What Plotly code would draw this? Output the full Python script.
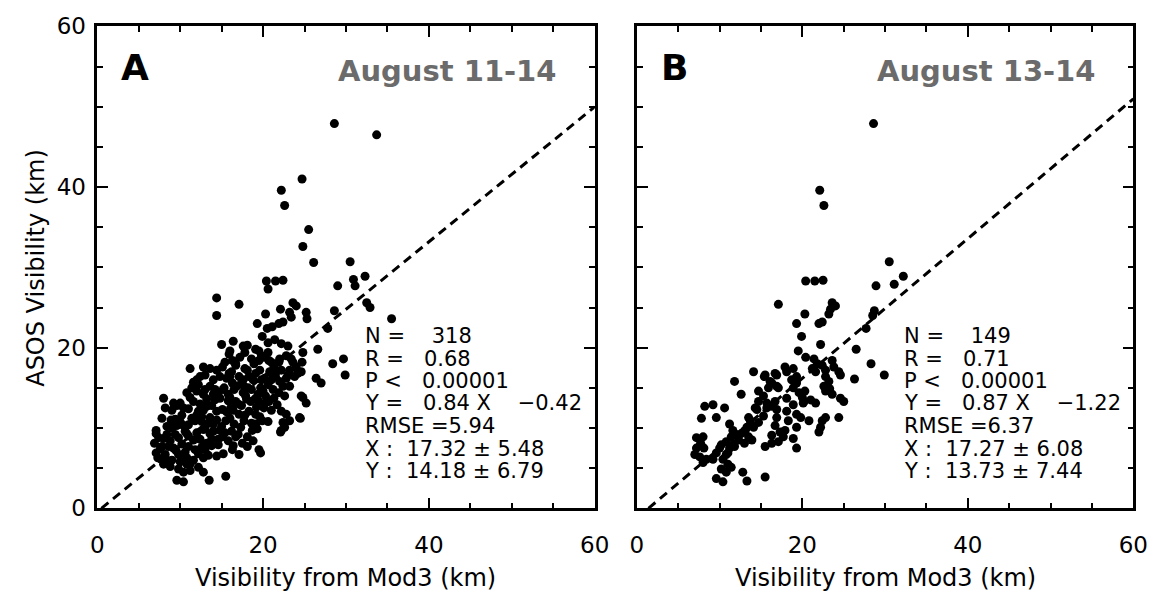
import plotly.graph_objects as go

# ---------------- data ----------------
a_points = [
    (28.6,47.9),(33.7,46.5),(24.7,41.0),(22.2,39.6),(22.6,37.7),(25.5,34.7),(24.8,32.6),
    (26.1,30.6),(30.5,30.7),(29.0,27.7),(30.9,28.5),(31.1,27.7),(32.3,28.9),
    (20.4,28.3),(20.6,27.3),(21.5,28.3),(22.4,28.4),
    (14.4,26.2),(14.4,24.0),(17.1,25.4),(32.5,25.6),(32.9,25.0),(35.5,23.6),
    (20.3,24.2),(22.1,24.8),(23.6,25.6),(24.0,25.2),(23.2,24.4),(23.4,23.8),(22.4,23.2),
    (21.9,23.0),(21.1,22.6),(20.5,22.4),(19.3,23.0),(19.9,21.4),(25.2,24.4),(25.3,23.6),
    (28.6,24.6),(27.8,22.4),
    (15.0,20.4),(18.1,20.3),(19.5,19.6),(22.2,20.5),(15.9,19.2),(16.3,18.4),(16.7,18.0),
    (26.6,19.8),(28.4,18.0),(29.7,18.6),(29.9,16.6),(26.4,16.2),(27.0,15.6),(24.8,19.4),
    (11.2,17.4),(11.6,15.7),(12.8,17.6),(12.4,16.4),(12.0,14.6),(13.0,14.8),
    (7.1,9.7),(7.1,9.3),(6.9,8.1),(7.1,6.9),(7.3,6.3),(8.0,5.5),(7.7,6.1),(8.2,6.7),(8.0,8.7),(7.8,7.7),
    (8.0,13.7),(8.2,12.5),(9.2,13.1),(7.8,11.2),(10.0,13.1),(10.4,12.5),(9.4,11.1),(9.6,10.3),
    (8.6,7.7),(9.2,7.5),(9.8,6.7),(10.4,6.1),(10.8,5.5),(9.8,4.9),(10.4,4.5),(9.6,3.5),(10.4,3.3),
    (11.6,13.3),(12.2,12.1),(11.8,10.9),(10.4,10.3),(10.8,9.3),(11.6,8.5),(11.0,7.7),(11.8,7.3),
    (10.8,6.3),(11.2,5.5),(11.2,4.7),(12.2,5.1),(12.8,4.5),(13.5,3.5),(15.5,4.0),
    (13.2,12.7),(13.6,11.3),(14.2,13.5),(14.4,12.1),(14.0,10.5),(13.6,9.3),(13.2,8.1),(13.0,7.3),
    (12.8,6.3),(14.4,6.5),(14.6,7.9),(15.1,8.9),(14.8,9.7),(15.5,10.9),(15.1,12.3),(14.8,13.7),
    (14.2,14.8),(15.3,15.0),(14.8,16.4),(14.4,17.2),(15.1,17.6),
    (15.9,16.8),(16.7,17.8),(17.1,16.4),(16.3,15.6),(16.5,14.8),
    (16.7,13.3),(16.1,12.5),(17.1,11.7),(16.5,10.5),(17.3,10.1),(17.7,10.9),(16.7,8.9),(17.5,8.1),
    (16.3,7.3),(17.1,6.7),(18.1,7.7),(18.1,8.9),(18.7,9.7),(19.1,10.5),(18.3,12.1),(18.5,13.3),
    (17.9,14.0),(17.7,15.2),(18.3,16.4),(18.1,17.2),(19.1,16.8),(18.9,18.0),(19.5,18.4),(20.1,18.8),
    (19.1,19.8),
    (19.7,15.0),(20.3,14.0),(19.5,13.3),(20.1,12.5),(19.1,11.7),(19.9,10.9),(19.3,9.9),(19.5,7.3),(19.7,6.9),
    (20.7,18.4),(21.3,17.6),(21.9,18.2),(22.2,17.2),(21.5,16.4),(22.8,16.2),(22.4,15.2),(21.9,14.4),
    (21.3,13.7),(20.7,13.3),(21.7,12.9),(22.6,14.0),(23.2,15.2),(23.8,16.4),(24.2,16.8),(23.2,17.2),
    (23.6,18.2),(24.6,17.0),(24.7,18.2),
    (22.2,12.1),(22.8,11.7),(22.4,10.7),(22.2,9.7),(23.2,10.9),(24.5,11.2),(24.8,13.8),(25.2,13.1),
    (9.0,6.0),(10.0,5.8),(11.6,6.0),(12.2,6.8),(13.4,6.6),(9.5,7.2),(10.6,7.0),
    (8.8,8.4),(9.8,8.8),(10.2,8.0),(12.4,8.6),(12.0,9.4),(13.8,8.6),(15.8,8.4),(16.2,9.6),(17.0,9.2),(18.8,8.4),
    (8.4,10.2),(8.9,11.0),(10.0,10.8),(11.0,10.4),(12.6,10.8),(13.0,10.0),(14.4,11.0),(15.0,10.2),
    (16.0,11.2),(17.8,11.6),(18.6,10.6),(19.6,11.4),(20.6,10.8),
    (9.0,12.2),(9.6,12.8),(11.0,12.4),(12.4,13.0),(12.8,12.2),(13.8,12.8),(15.8,13.4),(16.4,12.2),
    (17.4,12.8),(18.0,13.6),(19.2,12.6),(20.4,13.2),(21.0,12.2),
    (10.8,14.4),(11.4,15.0),(12.8,14.2),(13.6,15.2),(14.6,14.4),(15.8,14.2),(16.8,15.2),(17.6,14.4),
    (18.6,14.8),(19.4,14.2),(20.6,15.4),(21.2,14.8),(22.0,15.8),
    (12.0,16.0),(13.0,16.6),(13.6,17.4),(14.0,16.0),(15.6,16.2),(16.2,17.0),(17.6,16.0),(17.8,17.4),
    (19.6,17.2),(20.2,16.2),(20.8,17.0),(23.0,16.6),
    (15.4,18.2),(16.0,19.6),(17.2,18.8),(17.8,19.4),(18.6,18.6),(19.8,19.0),(20.6,19.4),(21.0,18.2),
    (22.0,18.6),(22.8,19.0),(23.4,18.6),(24.0,17.6),
    (16.4,20.8),(17.6,20.2),(20.6,20.6),(21.4,21.0),(23.0,20.2),
    (7.4,8.8),(7.6,7.4),(8.4,6.0),(8.8,5.2),
    (24.6,14.0),(24.4,11.3),(22.6,10.1),(22.1,9.5),
    (9.4,9.2),(10.6,9.6),(11.4,11.2),(12.0,11.6),(12.8,9.8),(13.4,10.6),(14.0,9.6),(14.6,8.6),
    (15.4,9.4),(15.6,12.0),(16.0,13.8),(17.0,13.0),(17.4,15.6),(18.2,15.0),(18.8,16.0),(19.8,16.0),
    (19.0,13.6),(20.0,14.6),(21.0,16.0),(21.6,17.0),(12.2,15.4),(13.2,13.6),(14.0,14.2),(15.2,14.8),
    (16.0,16.4),(10.2,11.6),(11.2,13.8),(12.6,11.4),(8.4,9.2),(9.0,10.0),(15.2,6.8),(13.8,7.8),
    (16.4,7.8),(11.0,9.0),(12.6,7.6),
]

b_points = [
    (28.6,47.9),(22.1,39.6),(22.6,37.7),(30.5,30.7),(28.9,27.7),(31.1,27.9),(32.2,28.9),
    (20.4,28.3),(21.5,28.3),(22.5,28.4),
    (17.1,25.4),(20.3,24.2),(23.6,25.6),(24.0,25.2),(23.4,24.8),(23.2,24.2),(22.4,23.2),(22.0,23.0),
    (19.3,23.0),(19.9,21.4),(28.7,24.6),(28.5,24.0),(27.7,22.4),(19.5,19.6),(22.2,20.4),(26.5,19.8),
    (28.3,18.0),(29.9,16.6),(26.3,16.1),
    (20.4,18.8),(21.4,18.6),(21.8,18.0),(21.2,17.4),(21.6,17.0),(22.4,17.8),(22.8,17.2),(23.6,18.4),
    (23.8,17.6),(24.4,17.0),(24.6,16.6),(23.2,15.8),(22.6,15.2),(22.8,14.6),(23.3,14.9),(23.6,14.2),
    (24.6,13.7),(25.0,13.3),
    (22.4,10.9),(22.8,11.3),(22.2,10.1),(22.0,9.5),(24.4,11.3),(19.8,11.3),
    (17.9,17.6),(18.9,17.4),(19.3,16.4),(18.7,16.0),(19.3,15.6),(18.9,15.0),(19.6,14.4),(20.0,13.8),
    (20.2,13.3),(21.0,13.5),(21.6,13.1),(22.8,16.4),
    (17.1,15.0),(16.3,15.6),(15.4,16.4),(16.9,16.6),(14.1,17.0),(11.8,15.8),(12.6,14.2),
    (8.2,12.7),(9.2,12.9),(7.8,11.2),(9.6,11.3),(10.6,12.5),
    (14.5,12.3),(13.5,11.3),(13.3,10.1),(14.7,10.7),(15.3,11.5),(15.7,12.5),(16.3,12.7),(16.7,13.3),
    (16.9,11.3),(16.7,10.3),(17.3,9.5),(17.9,9.7),(16.3,9.1),(17.1,8.3),(15.5,7.7),(16.3,8.1),
    (17.7,8.9),(18.9,8.7),(19.3,7.5),
    (11.2,10.5),(11.6,9.7),(11.4,8.9),(12.0,9.2),(10.8,8.3),(11.7,8.0),(12.3,8.5),(11.2,7.5),
    (10.8,6.7),(10.4,6.1),(11.0,5.5),(11.4,5.1),(10.2,4.9),(10.8,4.5),(9.6,3.7),(10.4,3.3),
    (12.8,4.5),(13.3,3.4),(15.5,3.9),(13.0,8.1),(13.5,8.9),(13.1,9.7),(13.9,8.5),
    (8.0,8.9),(7.2,8.8),(7.7,8.1),(7.2,7.5),(8.1,7.5),(7.0,6.7),(7.6,6.4),(8.0,5.7),(8.4,6.1),
    (9.6,6.9),(10.0,7.5),(9.2,6.1),
    (15.5,16.6),(16.7,16.8),(18.1,17.0),(16.1,15.8),(16.9,15.2),(15.9,15.0),
    (14.7,14.6),(15.3,14.0),(14.7,13.3),(15.7,13.1),(16.9,12.3),(14.3,12.5),(13.7,10.9),(14.1,10.1),
    (12.6,9.3),(10.2,7.9),(11.8,7.7),(11.0,6.9),
    (18.1,13.7),(18.9,12.9),(18.1,12.1),(19.3,11.7),(18.3,10.9),(19.3,10.1),
    (20.3,14.6),(20.1,13.1),(20.8,10.9),
]

a_x = [p[0] for p in a_points]
a_y = [p[1] for p in a_points]
b_x = [p[0] for p in b_points]
b_y = [p[1] for p in b_points]

fit_a = (0.84, -0.42)   # slope, intercept
fit_b = (0.87, -1.22)

stats_a = ["N =    318", "R =   0.68", "P <   0.00001", "Y =   0.84 X    \u22120.42",
           "RMSE =5.94", "X :  17.32 \u00b1 5.48", "Y :  14.18 \u00b1 6.79"]
stats_b = ["N =    149", "R =   0.71", "P <   0.00001", "Y =   0.87 X    \u22121.22",
           "RMSE =6.37", "X :  17.27 \u00b1 6.08", "Y :  13.73 \u00b1 7.44"]
stats_rows_y = [21.4, 18.6, 15.9, 13.1, 10.2, 7.4, 4.7]

panel_letters = ["A", "B"]
panel_titles = ["August 11-14", "August 13-14"]
x_title = "Visibility from Mod3 (km)"
y_title = "ASOS Visibility (km)"
tick_vals = [0, 20, 40, 60]

# ---------------- figure ----------------
W, H = 1166, 594
FONT = "DejaVu Sans"
fig = go.Figure()

for i, (xs, ys, fit) in enumerate([(a_x, a_y, fit_a), (b_x, b_y, fit_b)]):
    xr = "x" if i == 0 else "x2"
    yr = "y" if i == 0 else "y2"
    fig.add_trace(go.Scatter(x=xs, y=ys, mode="markers", xaxis=xr, yaxis=yr,
                             marker=dict(color="black", size=9, line=dict(width=0)),
                             showlegend=False, hoverinfo="skip"))
    m, c = fit
    x0 = -c / m
    fig.add_trace(go.Scatter(x=[x0, 60], y=[m * x0 + c, m * 60 + c], mode="lines",
                             xaxis=xr, yaxis=yr,
                             line=dict(color="black", width=3, dash="9px,6px"),
                             showlegend=False, hoverinfo="skip"))

def px_x(p):
    return p / W

def px_y(p):
    return (H - p) / H

axis_common = dict(
    range=[0, 60], tickvals=tick_vals, ticks="inside", ticklen=11, tickwidth=2,
    tickcolor="black", showline=True, linecolor="black", linewidth=2.5,
    mirror="allticks", showgrid=False, zeroline=False,
    tickfont=dict(family=FONT, size=23, color="black"),
    minor=dict(dtick=5, tick0=0, ticks="inside", ticklen=6, tickwidth=2, tickcolor="black",
               showgrid=False),
)

xdomA = [px_x(92), px_x(599)]
xdomB = [px_x(642), px_x(1148)]
ydom = [px_y(518), px_y(14)]

fig.update_layout(
    width=W, height=H, margin=dict(l=0, r=0, t=0, b=0),
    paper_bgcolor="white", plot_bgcolor="white",
    xaxis=dict(domain=xdomA, anchor="y", ticklabelstandoff=14, **axis_common),
    yaxis=dict(domain=ydom, anchor="x", ticklabelstandoff=4, **axis_common),
    xaxis2=dict(domain=xdomB, anchor="y2", ticklabelstandoff=14, **axis_common),
    yaxis2=dict(domain=ydom, anchor="x2", showticklabels=False, **axis_common),
)

ann = []
for i in range(2):
    xr = "x" if i == 0 else "x2"
    yr = "y" if i == 0 else "y2"
    stats = stats_a if i == 0 else stats_b
    for txt, yy in zip(stats, stats_rows_y):
        ann.append(dict(x=32.0, y=yy, xref=xr, yref=yr, text=txt.replace(" ", "\u00a0"),
                        showarrow=False, xanchor="left", yanchor="middle",
                        font=dict(family=FONT, size=21, color="black")))
    ann.append(dict(x=4.6, y=54.9, xref=xr, yref=yr, text=panel_letters[i], showarrow=False,
                    xanchor="center", yanchor="middle",
                    font=dict(family=FONT, size=36, color="black", weight="bold")))
    ann.append(dict(x=55.6, y=54.5, xref=xr, yref=yr, text=panel_titles[i], showarrow=False,
                    xanchor="right", yanchor="middle",
                    font=dict(family=FONT, size=29, color="#6b6b6b", weight="bold")))
    dom = xdomA if i == 0 else xdomB
    ann.append(dict(x=(dom[0] + dom[1]) / 2, y=0.0, xref="paper", yref="paper",
                    text=x_title, showarrow=False, xanchor="center", yanchor="bottom",
                    borderpad=0, yshift=-12,
                    font=dict(family=FONT, size=24, color="black")))

ann.append(dict(x=px_x(30), y=px_y(266), xref="paper", yref="paper", text=y_title,
                textangle=-90, showarrow=False, xanchor="center", yanchor="middle",
                font=dict(family=FONT, size=24, color="black")))
fig.update_layout(annotations=ann)

fig.write_html("out.html")
